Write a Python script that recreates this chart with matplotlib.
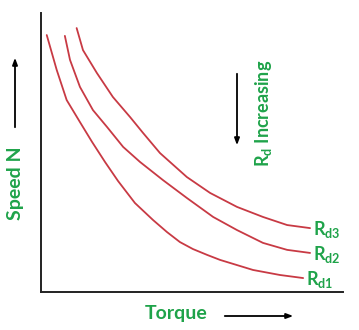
import matplotlib.pyplot as plt

# torque (x) and speed (y), both on a 0-100 scale
rd1_torque = [1.9, 5.2, 8.5, 12.9, 16.9, 21.2, 25.5, 31.1, 37.1, 41.7, 46.0, 50.3, 55.0, 59.3, 70.2, 79.1, 86.8]
rd1_speed = [92.1, 79.6, 68.8, 60.9, 53.8, 46.6, 39.8, 31.9, 25.8, 21.5, 17.9, 15.4, 13.3, 11.5, 7.9, 6.1, 5.0]
rd2_torque = [7.9, 9.6, 12.9, 17.2, 21.9, 27.2, 32.8, 40.4, 48.3, 57.0, 64.9, 73.5, 81.5, 89.1]
rd2_speed = [91.8, 83.2, 73.5, 65.2, 59.1, 52.0, 46.6, 40.1, 33.7, 26.9, 22.2, 17.6, 15.1, 14.0]
rd3_torque = [11.8, 13.9, 18.5, 23.8, 29.5, 33.8, 39.4, 48.3, 56.0, 64.9, 73.5, 81.5, 89.1]
rd3_speed = [94.6, 86.7, 78.5, 69.9, 62.7, 57.0, 49.8, 41.2, 35.5, 30.5, 26.9, 24.0, 22.9]
curve_labels = ["d1", "d2", "d3"]

green = "#1fa34a"
red = "#c83a44"
W, H = 359, 330

fig = plt.figure(figsize=(W / 100, H / 100), dpi=100)
ax = fig.add_axes([41 / W, 1 - 292 / H, 302 / W, 279 / H])
ax.set_xlim(0, 100)
ax.set_ylim(0, 100)
for s in ["top", "right"]:
    ax.spines[s].set_visible(False)
for s in ["left", "bottom"]:
    ax.spines[s].set_linewidth(1.4)
    ax.spines[s].set_color("#222222")
ax.set_xticks([])
ax.set_yticks([])

curves = [(rd1_torque, rd1_speed), (rd2_torque, rd2_speed), (rd3_torque, rd3_speed)]
for (x, y), lab in zip(curves, curve_labels):
    ax.plot(x, y, color=red, lw=1.3, solid_capstyle="round", solid_joinstyle="round")
    ax.text(x[-1] + 1.0, y[-1] - 0.5, r"R$_{\mathregular{%s}}$" % lab, color=green,
            fontsize=13, fontweight="bold", family="Lato", va="center", ha="left")

# axis captions and arrows
fig.text(176 / W, 1 - 313 / H, "Torque", color=green, fontsize=14, fontweight="bold",
         family="Lato", ha="center", va="center")
fig.text(16 / W, 1 - 183 / H, "Speed N", color=green, fontsize=14, fontweight="bold",
         family="Lato", ha="center", va="center", rotation=90)
fig.text(263 / W, 1 - 113 / H, r"R$_{\mathregular{d}}$ Increasing", color=green, fontsize=13,
         fontweight="bold", family="Lato", ha="center", va="center", rotation=90)

arrow = dict(arrowstyle="-|>,head_length=0.4,head_width=0.15", color="black", lw=1.3)
fig_px = lambda px, py: (px / W, 1 - py / H)
ax.annotate("", xy=fig_px(296, 316), xytext=fig_px(222, 316),
            xycoords="figure fraction", textcoords="figure fraction", arrowprops=arrow)
ax.annotate("", xy=fig_px(15, 55), xytext=fig_px(15, 130),
            xycoords="figure fraction", textcoords="figure fraction", arrowprops=arrow)
ax.annotate("", xy=fig_px(237, 148), xytext=fig_px(237, 71),
            xycoords="figure fraction", textcoords="figure fraction", arrowprops=arrow)

fig.savefig("out.png", dpi=100)
